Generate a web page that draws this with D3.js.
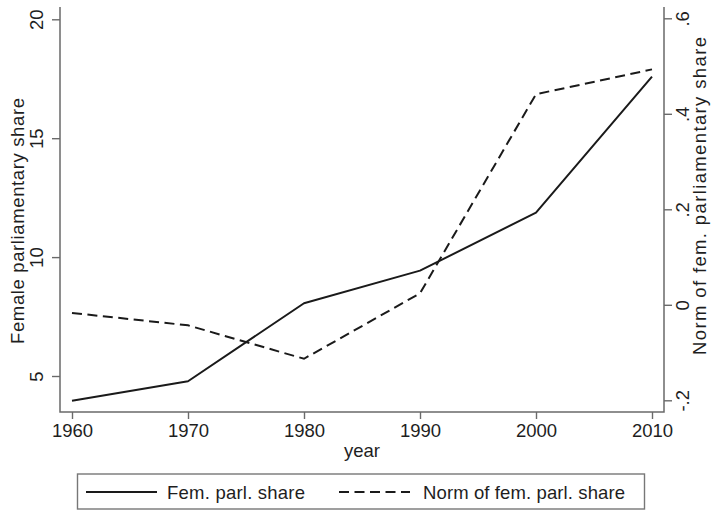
<!DOCTYPE html>
<html>
<head>
<meta charset="utf-8">
<script src="https://cdn.jsdelivr.net/npm/d3@7/dist/d3.min.js"></script>
<style>
  html, body { margin: 0; padding: 0; background: #fff; }
  svg { display: block; font-family: "Liberation Sans", Arial, Helvetica, sans-serif; }
</style>
</head>
<body>
<svg id="chart" width="711" height="510"></svg>
<script>
// ---- data ----
const years = [1960, 1970, 1980, 1990, 2000, 2010];
const femShare = [3.96, 4.78, 8.06, 9.43, 11.87, 17.59];
const normShare = [-0.017, -0.043, -0.113, 0.024, 0.441, 0.493];
const xTicks = [1960, 1970, 1980, 1990, 2000, 2010];
const leftTicks = [5, 10, 15, 20];
const rightTicks = [-0.2, 0, 0.2, 0.4, 0.6];
const rightTickLabels = ["-.2", "0", ".2", ".4", ".6"];
const seriesNames = ["Fem. parl. share", "Norm of fem. parl. share"];

const svg = d3.select("#chart");
const plot = { left: 60, right: 664, top: 7, bottom: 412 };
const axisColor = "#6a6a6a";
const textColor = "#1e1e1e";
const fontSize = 18.5;

const x = d3.scaleLinear().domain([1960, 2010]).range([72, 652]);
const yL = d3.scaleLinear().domain([5, 20]).range([376, 19.3]);
const yR = d3.scaleLinear().domain([-0.2, 0.6]).range([400.3, 18.3]);

// ---- axes ----
function styleAxis(g) {
  g.select(".domain").remove();
  g.selectAll(".tick line").attr("stroke", axisColor).attr("stroke-width", 1.4);
  g.selectAll(".tick text").attr("fill", textColor).style("font-size", fontSize + "px");
}

// bottom
const gx = svg.append("g").attr("transform", `translate(0,${plot.bottom})`)
  .call(d3.axisBottom(x).tickValues(xTicks).tickFormat(d3.format("d")).tickSize(7).tickPadding(6));
styleAxis(gx);
gx.selectAll(".tick text").attr("dy", null).attr("y", 25);

// left
const gl = svg.append("g").attr("transform", `translate(${plot.left},0)`)
  .call(d3.axisLeft(yL).tickValues(leftTicks).tickFormat(d3.format("d")).tickSize(8));
styleAxis(gl);
gl.selectAll(".tick text")
  .attr("x", null).attr("dy", null)
  .attr("text-anchor", "middle")
  .attr("transform", "translate(-17,0) rotate(-90)");

// right
const gr = svg.append("g").attr("transform", `translate(${plot.right},0)`)
  .call(d3.axisRight(yR).tickValues(rightTicks).tickFormat((d, i) => rightTickLabels[i]).tickSize(8));
styleAxis(gr);
gr.selectAll(".tick text")
  .attr("x", null).attr("dy", null)
  .attr("text-anchor", "middle")
  .attr("transform", "translate(25,0) rotate(-90)");

// axis lines
svg.append("path")
  .attr("d", `M${plot.left},${plot.top}V${plot.bottom}H${plot.right}V${plot.top}`)
  .attr("fill", "none").attr("stroke", axisColor).attr("stroke-width", 1.5);

// ---- lines ----
const lineL = d3.line().x((d, i) => x(years[i])).y(d => yL(d));
const lineR = d3.line().x((d, i) => x(years[i])).y(d => yR(d));

svg.append("path").datum(femShare).attr("d", lineL)
  .attr("fill", "none").attr("stroke", "#1a1a1a").attr("stroke-width", 2)
  .attr("stroke-linejoin", "round");
svg.append("path").datum(normShare).attr("d", lineR)
  .attr("fill", "none").attr("stroke", "#1a1a1a").attr("stroke-width", 2)
  .attr("stroke-dasharray", "10,5.5");

// ---- titles ----
svg.append("text").text("year")
  .attr("x", (plot.left + plot.right) / 2).attr("y", 457)
  .attr("text-anchor", "middle").attr("fill", textColor).style("font-size", fontSize + "px");

svg.append("text").text("Female parliamentary share")
  .attr("text-anchor", "middle").attr("fill", textColor).style("font-size", fontSize + "px")
  .attr("textLength", 246).attr("lengthAdjust", "spacing")
  .attr("transform", "translate(23.5,221) rotate(-90)");

svg.append("text").text("Norm of fem. parliamentary share")
  .attr("text-anchor", "middle").attr("fill", textColor).style("font-size", fontSize + "px")
  .attr("textLength", 318).attr("lengthAdjust", "spacing")
  .attr("transform", "translate(706,196) rotate(-90)");

// ---- legend ----
const lg = svg.append("g");
lg.append("rect").attr("x", 77.5).attr("y", 474).attr("width", 567).attr("height", 35)
  .attr("fill", "#fff").attr("stroke", "#777").attr("stroke-width", 1.4);
lg.append("line").attr("x1", 86).attr("x2", 157).attr("y1", 492).attr("y2", 492)
  .attr("stroke", "#1a1a1a").attr("stroke-width", 2);
lg.append("line").attr("x1", 339).attr("x2", 410).attr("y1", 492).attr("y2", 492)
  .attr("stroke", "#1a1a1a").attr("stroke-width", 2).attr("stroke-dasharray", "10,5.5");
lg.append("text").text(seriesNames[0]).attr("x", 167).attr("y", 498.5)
  .attr("textLength", 138).attr("lengthAdjust", "spacing")
  .attr("fill", textColor).style("font-size", fontSize + "px");
lg.append("text").text(seriesNames[1]).attr("x", 423).attr("y", 498.5)
  .attr("textLength", 202).attr("lengthAdjust", "spacing")
  .attr("fill", textColor).style("font-size", fontSize + "px");
</script>
</body>
</html>
